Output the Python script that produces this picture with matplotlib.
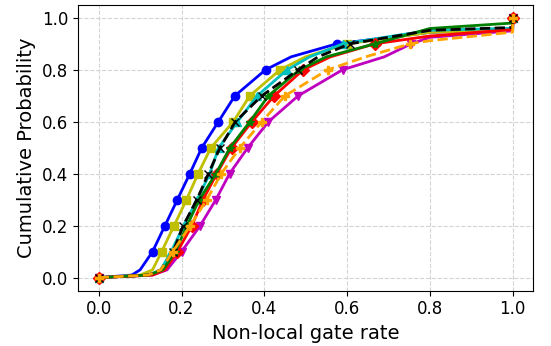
import matplotlib
matplotlib.use('Agg')
import matplotlib.pyplot as plt

# cumulative levels at which the x values are read
levels = [0.0, 0.01, 0.03, 0.1, 0.2, 0.3, 0.4, 0.5, 0.6, 0.7, 0.8, 0.85, 0.9]
marked = [0.0, 0.1, 0.2, 0.3, 0.4, 0.5, 0.6, 0.7, 0.8, 0.9]

# x value reached at each level, per series
blue_x = [0.0, 0.08, 0.10, 0.13, 0.16, 0.19, 0.22, 0.249, 0.289, 0.329, 0.403, 0.465, 0.575]
olive_x = [0.0, 0.10, 0.13, 0.152, 0.182, 0.212, 0.24, 0.271, 0.325, 0.365, 0.438, 0.50, 0.60]
cyan_x = [0.0, 0.12, 0.15, 0.175, 0.205, 0.238, 0.268, 0.29, 0.335, 0.383, 0.455, 0.51, 0.59]
black_x = [0.0, 0.12, 0.15, 0.18, 0.204, 0.237, 0.265, 0.293, 0.33, 0.394, 0.482, 0.53, 0.607]
green_x = [0.0, 0.12, 0.155, 0.185, 0.213, 0.243, 0.283, 0.317, 0.365, 0.41, 0.485, 0.55, 0.667]
red_x = [0.0, 0.13, 0.16, 0.19, 0.225, 0.252, 0.285, 0.321, 0.37, 0.424, 0.494, 0.56, 0.667]
orange_x = [0.0, 0.12, 0.15, 0.179, 0.221, 0.261, 0.296, 0.341, 0.394, 0.45, 0.553, 0.645, 0.752]
magenta_x = [0.0, 0.13, 0.165, 0.2, 0.245, 0.283, 0.316, 0.36, 0.41, 0.482, 0.589, 0.69, 0.755]

# upper tail: cumulative value at x = 0.8 and just before x = 1.0
tail_x = [0.8, 1.0, 1.0]
blue_tail = [0.944, 0.958, 1.0]
olive_tail = [0.944, 0.955, 1.0]
cyan_tail = [0.952, 0.96, 1.0]
black_tail = [0.952, 0.963, 1.0]
green_tail = [0.959, 0.98, 1.0]
red_tail = [0.93, 0.955, 1.0]
orange_tail = [0.912, 0.945, 1.0]
magenta_tail = [0.925, 0.95, 1.0]

series = [
    (blue_x, blue_tail, 'b', '-', 'o'),
    (olive_x, olive_tail, 'y', '-', 's'),
    (cyan_x, cyan_tail, 'c', '-', '^'),
    (magenta_x, magenta_tail, 'm', '-', 'v'),
    (red_x, red_tail, 'r', '-', 'D'),
    (green_x, green_tail, 'g', '-', '*'),
    (black_x, black_tail, 'k', '--', 'x'),
    (orange_x, orange_tail, 'orange', '--', 'P'),
]

fig = plt.figure(figsize=(5.51, 3.46), dpi=100)
ax = fig.add_axes([0.1416, 0.16, 0.8264, 0.826])

marks = [levels.index(v) for v in marked] + [len(levels) + len(tail_x) - 1]
for xs, tail, col, ls, mk in series:
    x = xs + tail_x
    y = levels + tail
    ax.plot(x, y, color=col, linestyle=ls, marker=mk, markevery=marks,
            linewidth=2, markersize=6)

ax.set_xlim(-0.05, 1.05)
ax.set_ylim(-0.05, 1.05)
ax.set_xticks([0.0, 0.2, 0.4, 0.6, 0.8, 1.0])
ax.set_yticks([0.0, 0.2, 0.4, 0.6, 0.8, 1.0])
ax.tick_params(labelsize=12)
ax.grid(True, linestyle='--', color='lightgray')
ax.set_axisbelow(True)
ax.set_xlabel("Non-local gate rate", fontsize=14)
ax.set_ylabel("Cumulative Probability", fontsize=14)

fig.savefig("out.png", dpi=100)
